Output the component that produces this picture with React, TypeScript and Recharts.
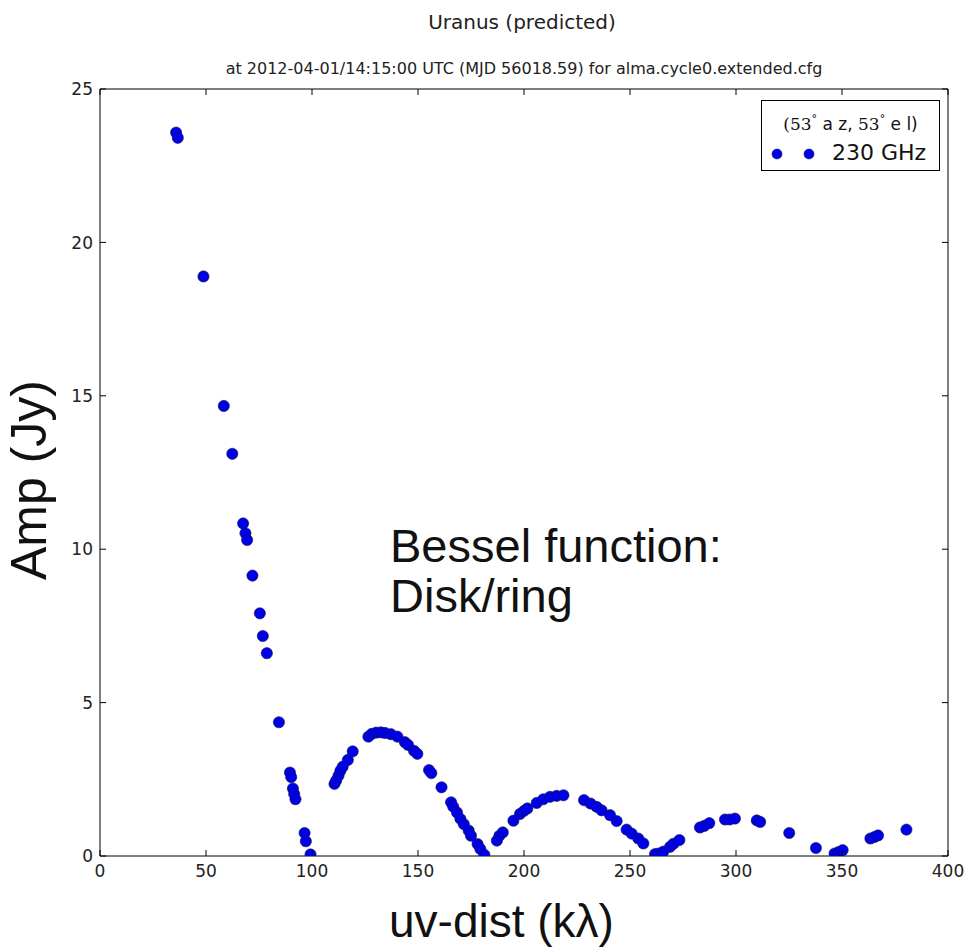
import React from "react";
import { ScatterChart, Scatter, XAxis, YAxis } from "recharts";

const uvDist = [
  35.9, 36.7, 48.8, 58.4, 62.4, 67.5, 68.6, 69.4, 71.9, 75.4, 76.8, 78.7, 84.4,
  89.6, 90.2, 91.0, 91.6, 92.2, 96.5, 97.1, 99.3,
  110.6, 111.4, 112.5, 113.4, 114.5, 116.9, 119.2, 126.6, 128.1, 130.2, 132.5, 134.4,
  137.2, 140.3, 143.8, 145.3, 148.1, 149.7, 155.2, 156.3, 161.1, 165.6, 166.6, 168.4,
  170.0, 171.6, 173.9, 175.0, 178.1, 179.4, 181.3,
  187.2, 188.4, 190.0, 195.0, 198.1, 200.0, 201.6, 206.0, 209.1, 212.3, 215.4, 218.6,
  228.3, 231.4, 234.3, 236.6, 240.6, 243.7, 248.4, 250.8, 253.9, 256.3, 261.8,
  263.5, 265.7, 268.9, 270.5, 273.3, 283.0, 285.0, 287.4, 294.8, 297.0, 299.5,
  309.8, 311.4, 325.1, 337.7, 346.5, 348.4, 350.3, 363.4, 365.3, 367.0, 380.4,
];
const amp = [
  23.58, 23.41, 18.89, 14.67, 13.11, 10.84, 10.52, 10.3, 9.14, 7.91, 7.17, 6.61, 4.36,
  2.72, 2.57, 2.2, 2.02, 1.85, 0.75, 0.48, 0.05,
  2.35, 2.46, 2.62, 2.78, 2.91, 3.13, 3.41, 3.89, 3.98, 4.02, 4.03, 4.01,
  3.97, 3.89, 3.71, 3.62, 3.43, 3.33, 2.8, 2.7, 2.24, 1.75, 1.61, 1.42,
  1.21, 1.04, 0.83, 0.66, 0.39, 0.23, 0.04,
  0.5, 0.66, 0.77, 1.15, 1.37, 1.47, 1.55, 1.73, 1.85, 1.93, 1.96, 1.98,
  1.82, 1.71, 1.6, 1.49, 1.33, 1.14, 0.86, 0.73, 0.57, 0.41, 0.06,
  0.08, 0.14, 0.3, 0.4, 0.52, 0.93, 0.98, 1.07, 1.19, 1.19, 1.22,
  1.16, 1.11, 0.75, 0.26, 0.08, 0.13, 0.19, 0.57, 0.62, 0.67, 0.86,
];
const xTicks = [0, 50, 100, 150, 200, 250, 300, 350, 400];
const yTicks = [0, 5, 10, 15, 20, 25];

const points = uvDist.map((u, i) => ({ u, a: amp[i] }));

const TICK_FONT = "'DejaVu Sans', sans-serif";
const BIG_FONT = "'Liberation Sans', Arial, sans-serif";
const TICK_COLOR = "#222";

const BottomTick = (p: any) => (
  <g>
    <line x1={p.x} x2={p.x} y1={p.y} y2={p.y - 6} stroke="#000" strokeWidth={1} />
    <text x={p.x} y={p.y + 21} textAnchor="middle" fontFamily={TICK_FONT} fontSize={17} fill={TICK_COLOR}>
      {p.payload.value}
    </text>
  </g>
);
const TopTick = (p: any) => (
  <line x1={p.x} x2={p.x} y1={p.y} y2={p.y + 6} stroke="#000" strokeWidth={1} />
);
const LeftTick = (p: any) => (
  <g>
    <line x1={p.x} x2={p.x + 6} y1={p.y} y2={p.y} stroke="#000" strokeWidth={1} />
    <text x={p.x - 7} y={p.y} dy="0.36em" textAnchor="end" fontFamily={TICK_FONT} fontSize={17} fill={TICK_COLOR}>
      {p.payload.value}
    </text>
  </g>
);
const RightTick = (p: any) => (
  <line x1={p.x} x2={p.x - 6} y1={p.y} y2={p.y} stroke="#000" strokeWidth={1} />
);

const Dot = (p: any) => (
  <circle cx={p.cx} cy={p.cy} r={5.6} fill="#0000e6" stroke="#101050" strokeWidth={0.6} />
);
const NoDot = () => <g />;

export default function App() {
  return (
    <div style={{ position: "absolute", left: 0, top: 0, width: 967, height: 948, background: "#fff" }}>
      <ScatterChart width={967} height={948} margin={{ top: 59, right: 0, left: 0, bottom: 0 }}>
        <XAxis
          xAxisId={0}
          type="number"
          dataKey="u"
          domain={[0, 400]}
          ticks={xTicks}
          height={92}
          tickSize={0}
          tickMargin={0}
          tickLine={false}
          tick={BottomTick}
          axisLine={{ stroke: "#000", strokeWidth: 1 }}
          allowDataOverflow
        />
        <XAxis
          xAxisId="top"
          orientation="top"
          type="number"
          dataKey="u"
          domain={[0, 400]}
          ticks={xTicks}
          height={30}
          tickSize={0}
          tickMargin={0}
          tickLine={false}
          tick={TopTick}
          axisLine={{ stroke: "#000", strokeWidth: 1 }}
          allowDataOverflow
        />
        <YAxis
          yAxisId={0}
          type="number"
          dataKey="a"
          domain={[0, 25]}
          ticks={yTicks}
          width={100}
          tickSize={0}
          tickMargin={0}
          tickLine={false}
          tick={LeftTick}
          axisLine={{ stroke: "#000", strokeWidth: 1 }}
          allowDataOverflow
        />
        <YAxis
          yAxisId="right"
          orientation="right"
          type="number"
          dataKey="a"
          domain={[0, 25]}
          ticks={yTicks}
          width={19}
          tickSize={0}
          tickMargin={0}
          tickLine={false}
          tick={RightTick}
          axisLine={{ stroke: "#000", strokeWidth: 1 }}
          allowDataOverflow
        />
        <Scatter data={points} xAxisId="top" yAxisId="right" shape={NoDot} isAnimationActive={false} />
        <Scatter data={points} xAxisId={0} yAxisId={0} shape={Dot} isAnimationActive={false} />
      </ScatterChart>

      <div style={{ position: "absolute", left: 0, width: 1044, top: 10, textAlign: "center", fontFamily: TICK_FONT, fontSize: 20, color: "#222", lineHeight: "24px" }}>
        Uranus (predicted)
      </div>
      <div style={{ position: "absolute", left: 0, width: 1048, top: 59, textAlign: "center", fontFamily: TICK_FONT, fontSize: 16, color: "#222", lineHeight: "20px" }}>
        at 2012-04-01/14:15:00 UTC (MJD 56018.59) for alma.cycle0.extended.cfg
      </div>

      <div style={{ position: "absolute", left: 761, top: 100, width: 177, height: 69, border: "1px solid #000", background: "#fff" }}>
        <div style={{ position: "absolute", left: 0, width: 177, top: 9, textAlign: "center", fontSize: 17, lineHeight: "20px", color: "#111", whiteSpace: "nowrap" }}>
          <span style={{ fontFamily: "'DejaVu Serif', serif" }}>(53</span>
          <sup style={{ fontFamily: "'DejaVu Serif', serif", fontSize: 11 }}>°</sup>
          <span style={{ fontFamily: TICK_FONT }}> a z, </span>
          <span style={{ fontFamily: "'DejaVu Serif', serif" }}>53</span>
          <sup style={{ fontFamily: "'DejaVu Serif', serif", fontSize: 11 }}>°</sup>
          <span style={{ fontFamily: TICK_FONT }}> e l)</span>
        </div>
        <svg style={{ position: "absolute", left: 0, top: 0 }} width={177} height={69}>
          <circle cx={15} cy={53} r={5} fill="#0000e6" stroke="#101050" strokeWidth={0.6} />
          <circle cx={47} cy={53} r={5} fill="#0000e6" stroke="#101050" strokeWidth={0.6} />
        </svg>
        <div style={{ position: "absolute", left: 70, top: 39, fontFamily: TICK_FONT, fontSize: 22, lineHeight: "26px", color: "#111", whiteSpace: "nowrap" }}>
          230 GHz
        </div>
      </div>

      <div style={{ position: "absolute", left: 390, top: 521, fontFamily: BIG_FONT, fontSize: 47, lineHeight: "50px", color: "#111", whiteSpace: "nowrap" }}>
        Bessel function:
        <br />
        Disk/ring
      </div>

      <div style={{ position: "absolute", left: 389, top: 895, fontFamily: BIG_FONT, fontSize: 46, lineHeight: "52px", color: "#111", whiteSpace: "nowrap" }}>
        uv-dist (kλ)
      </div>

      <div
        style={{
          position: "absolute",
          left: 1,
          top: 580,
          transformOrigin: "0 0",
          transform: "rotate(-90deg)",
          fontFamily: BIG_FONT,
          fontSize: 50,
          lineHeight: "57px",
          color: "#111",
          whiteSpace: "nowrap",
        }}
      >
        Amp (Jy)
      </div>
    </div>
  );
}
